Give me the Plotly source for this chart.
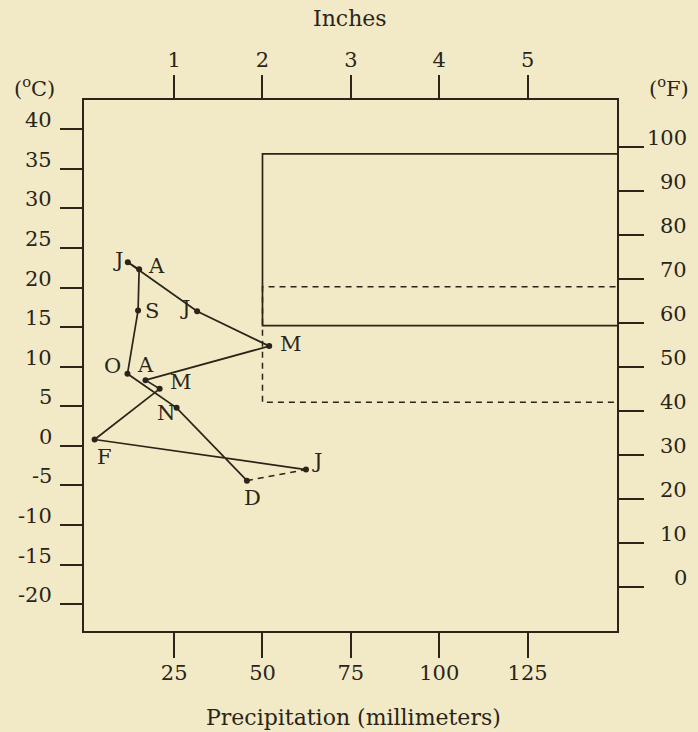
import plotly.graph_objects as go

# ---- data ----
months = ["J", "F", "M", "A", "M", "J", "J", "A", "S", "O", "N", "D"]
precip_mm = [62.3, 2.5, 20.9, 16.9, 51.9, 31.5, 11.9, 15.1, 14.8, 11.8, 25.7, 45.6]
temp_c = [-3.0, 0.8, 7.2, 8.3, 12.6, 17.0, 23.2, 22.3, 17.1, 9.1, 4.8, -4.4]

mm_ticks = [25, 50, 75, 100, 125]
inch_labels = ["1", "2", "3", "4", "5"]
c_ticks = [40, 35, 30, 25, 20, 15, 10, 5, 0, -5, -10, -15, -20]
f_ticks = [100, 90, 80, 70, 60, 50, 40, 30, 20, 10, 0]

# comfort zones (precip from, temp top, temp bottom)
solid_zone = [50, 36.9, 15.2]
dashed_zone = [50, 20.1, 5.5]

# ---- styles ----
INK = "#2a2419"
BG = "#f2eac6"
FONT = "DejaVu Serif"
x_range = [-0.5, 150.3]
y_range = [-23.4, 43.7]
x_edge = 153
f_range = [v * 9 / 5 + 32 for v in y_range]

# label offsets (px) for month labels: (dx, dy screen-down)
label_off = [(11, -9), (10, 18), (21, -7), (0, -15), (22, -2), (-12, -3),
             (-10, -2), (17, -3), (14, 0), (-15, -8), (-11, 5), (6, 17)]

fig = go.Figure()

# zone rectangles
fig.add_trace(go.Scatter(
    x=[x_edge, solid_zone[0], solid_zone[0], x_edge],
    y=[solid_zone[1], solid_zone[1], solid_zone[2], solid_zone[2]],
    mode="lines", line=dict(color=INK, width=1.7), hoverinfo="skip", showlegend=False))
fig.add_trace(go.Scatter(
    x=[x_edge, dashed_zone[0], dashed_zone[0], x_edge],
    y=[dashed_zone[1], dashed_zone[1], dashed_zone[2], dashed_zone[2]],
    mode="lines", line=dict(color=INK, width=1.5, dash="6px,5px"), hoverinfo="skip", showlegend=False))

# climograph path (Jan..Dec solid, Dec->Jan dashed)
fig.add_trace(go.Scatter(
    x=precip_mm, y=temp_c, mode="lines+markers",
    line=dict(color=INK, width=1.7),
    marker=dict(color=INK, size=6), showlegend=False))
fig.add_trace(go.Scatter(
    x=[precip_mm[-1], precip_mm[0]], y=[temp_c[-1], temp_c[0]], mode="lines",
    line=dict(color=INK, width=1.5, dash="6px,5px"), showlegend=False))

# dummy trace for top axis
fig.add_trace(go.Scatter(x=[precip_mm[0]], y=[temp_c[0]], xaxis="x2", mode="markers",
                         marker=dict(opacity=0), hoverinfo="skip", showlegend=False))

TF = dict(family=FONT, size=21, color=INK)
annotations = []
for m, x, y, (dx, dy) in zip(months, precip_mm, temp_c, label_off):
    annotations.append(dict(x=x, y=y, xref="x", yref="y", text=m, showarrow=False,
                            xanchor="center", yanchor="middle",
                            xshift=dx, yshift=-dy, font=TF))

for v in c_ticks:
    annotations.append(dict(x=0, y=v, xref="paper", yref="y", text=str(v), showarrow=False,
                            xanchor="right", yanchor="bottom", xshift=-30, yshift=-5,
                            font=TF))
for v in f_ticks:
    annotations.append(dict(x=1, y=v, xref="paper", yref="y2", text=str(v), showarrow=False,
                            xanchor="right", yanchor="bottom", xshift=72, yshift=-5,
                            font=TF))

annotations += [
    dict(x=0.499, y=1.1535, xref="paper", yref="paper", text="Inches", showarrow=False,
         xanchor="center", yanchor="middle", font=dict(family=FONT, size=22, color=INK)),
    dict(x=0.506, y=-0.162, xref="paper", yref="paper", text="Precipitation (millimeters)",
         xanchor="center", yanchor="middle",
         showarrow=False, font=dict(family=FONT, size=22, color=INK)),
    dict(x=-0.093, y=1.0245, xref="paper", yref="paper", text="(<sup>o</sup>C)", showarrow=False,
         xanchor="center", yanchor="middle", font=TF),
    dict(x=1.0976, y=1.0245, xref="paper", yref="paper", text="(<sup>o</sup>F)", showarrow=False,
         xanchor="center", yanchor="middle", font=TF),
]

fig.update_layout(
    width=698, height=732,
    margin=dict(l=84, r=81, t=100, b=101),
    paper_bgcolor=BG, plot_bgcolor=BG,
    font=dict(family=FONT, size=21, color=INK),
    xaxis=dict(range=x_range, tickvals=mm_ticks, ticks="outside", ticklen=25, tickwidth=1.6,
               tickcolor=INK, showline=True, linecolor=INK, linewidth=2, showgrid=False,
               zeroline=False, tickfont=TF, ticklabelstandoff=-3),
    xaxis2=dict(range=x_range, overlaying="x", side="top", tickvals=mm_ticks, ticktext=inch_labels,
                ticks="outside", ticklen=23, tickwidth=1.6, tickcolor=INK, showline=True,
                linecolor=INK, linewidth=2, showgrid=False, zeroline=False,
                tickfont=TF),
    yaxis=dict(range=y_range, tickvals=c_ticks, ticks="outside", ticklen=22, tickwidth=1.8,
               tickcolor=INK, showline=True, linecolor=INK, linewidth=2, showgrid=False,
               zeroline=False, showticklabels=False),
    yaxis2=dict(range=f_range, overlaying="y", side="right", tickvals=f_ticks, ticks="outside",
                ticklen=25, tickwidth=1.8, tickcolor=INK, showline=True, linecolor=INK,
                linewidth=2, showgrid=False, zeroline=False, showticklabels=False),
    annotations=annotations,
)

fig.write_html("out.html", config={"displayModeBar": False},
               post_script="document.body.style.margin='0';document.body.style.background='%s';" % BG)
